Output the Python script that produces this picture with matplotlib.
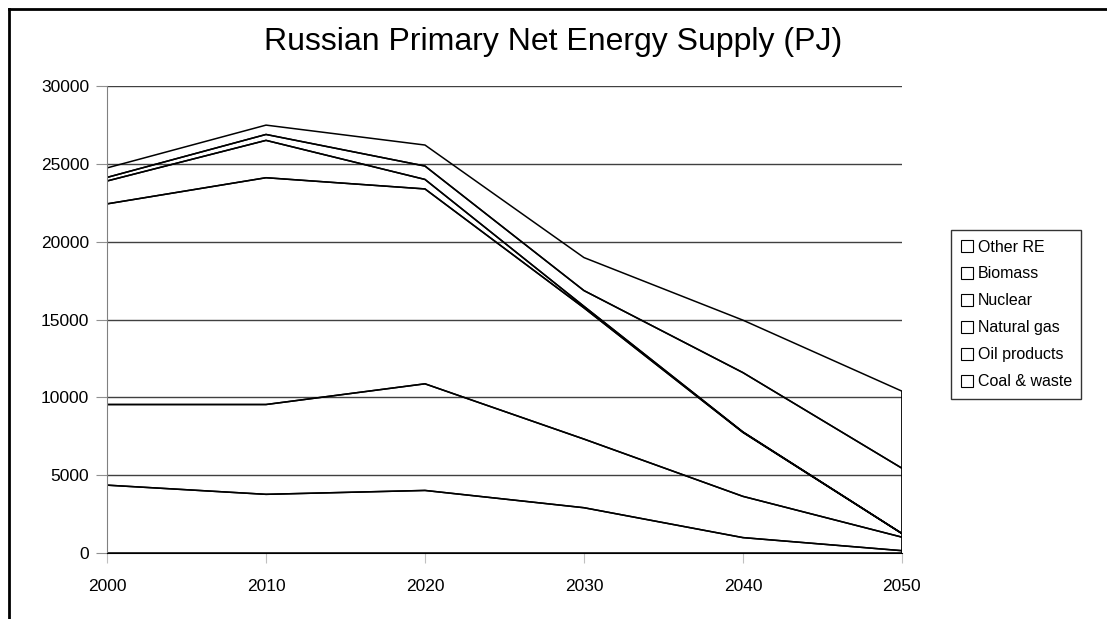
import matplotlib.pyplot as plt
from matplotlib.patches import Rectangle
from matplotlib.lines import Line2D

plt.rcParams['font.family'] = ['Liberation Sans', 'DejaVu Sans']

# Primary net energy supply by source, PJ
anos = [2000, 2010, 2020, 2030, 2040, 2050]
carvao = [4360, 3770, 4020, 2910, 990, 150]
petroleo = [5180, 5770, 6850, 4410, 2650, 870]
gas_natural = [12890, 14570, 12520, 8430, 4110, 230]
nuclear = [1470, 2400, 610, 100, 30, 10]
biomassa = [230, 380, 860, 1010, 3810, 4190]
outras_re = [610, 600, 1350, 2120, 3370, 4950]

rotulos = ['Coal & waste', 'Oil products', 'Natural gas', 'Nuclear', 'Biomass', 'Other RE']
yticks = [0, 5000, 10000, 15000, 20000, 25000, 30000]

fig = plt.figure(figsize=(11.07, 6.19), dpi=100)
ax = fig.add_axes([0.0967, 0.1066, 0.718, 0.7544])

# transparent areas, only the outlines are drawn
ax.stackplot(anos, carvao, petroleo, gas_natural, nuclear, biomassa, outras_re,
             colors=['none'] * 6, edgecolor='black', linewidth=1.1, zorder=2)

ax.set_xlim(2000, 2050)
ax.set_ylim(0, 30000)
ax.set_xticks(anos)
ax.set_yticks(yticks)
ax.yaxis.grid(True, color='#404040', linewidth=1.0, zorder=1)
ax.set_axisbelow(True)

for lado in ['top', 'right']:
    ax.spines[lado].set_visible(False)
ax.spines['left'].set_color('#808080')
ax.spines['bottom'].set_color('black')
ax.tick_params(axis='y', direction='out', length=8, color='#909090', labelsize=12.5, pad=5)
ax.tick_params(axis='x', direction='out', length=7, color='#c0c0c0', labelsize=12.5, pad=12)

fig.text(0.5, 0.932, 'Russian Primary Net Energy Supply (PJ)', ha='center', va='center', fontsize=23)

# legend with empty square markers, top series first
handles = [Rectangle((0, 0), 1, 1, facecolor='white', edgecolor='black', linewidth=0.8)
           for _ in rotulos]
leg = fig.legend(handles[::-1], rotulos[::-1], loc='center left',
                 bbox_to_anchor=(0.852, 0.492), frameon=True, fancybox=False,
                 edgecolor='black', fontsize=11.5, handlelength=0.75, handleheight=0.75,
                 handletextpad=0.3, labelspacing=0.75, borderpad=0.6)
leg.get_frame().set_linewidth(1.0)

# chart area border on the left and top
fig.add_artist(Line2D([0.008, 0.008], [0, 0.986], transform=fig.transFigure, color='black', linewidth=2))
fig.add_artist(Line2D([0.008, 1.0], [0.986, 0.986], transform=fig.transFigure, color='black', linewidth=2))

fig.savefig('out.png', dpi=100)
